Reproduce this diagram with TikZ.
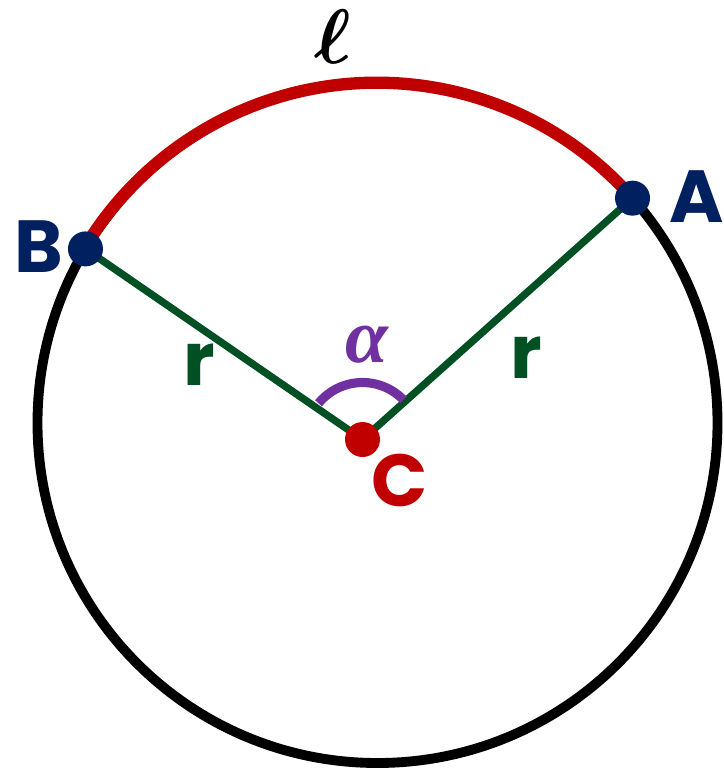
\documentclass[tikz,border=0pt]{standalone}
\usepackage{fontspec}
\usepackage{bm}
\setmainfont{Poppins}
\newfontfamily\greekfont{Liberation Serif}
\usetikzlibrary{calc}
\definecolor{navy}{RGB}{0,32,96}
\definecolor{arcred}{RGB}{192,0,0}
\definecolor{radgreen}{RGB}{0,80,36}
\definecolor{anglepurple}{RGB}{112,48,160}

\begin{document}
\begin{tikzpicture}[
    x=0.02cm, y=0.02cm,
    rim/.style={draw=black,line width=5.6pt},
    arcline/.style={draw=arcred,line width=7pt},
    radline/.style={draw=radgreen,line width=4.2pt},
    anglearc/.style={draw=anglepurple,line width=5.2pt},
    dot/.style={circle,inner sep=0pt,minimum size=0.7cm},
    lbl/.style={inner sep=0pt,font=\fontsize{42}{42}\selectfont\bfseries}
  ]
  \useasboundingbox (0,-768) rectangle (724,0);

  \coordinate (O) at (377.5,-423);
  \coordinate (A) at ($(O)+(41.4:340)$);
  \coordinate (B) at ($(O)+(149.2:340)$);
  \coordinate (C) at (362.5,-439.5);

  \draw[rim] (O) circle[radius=340];
  \draw[arcline] (A) arc[start angle=41.4, end angle=149.2, radius=341];
  \draw[radline] (C) -- (A);
  \draw[radline] (C) -- (B);
  \draw[anglearc] ($(C)+(44:57)$) arc[start angle=44, end angle=140.5, radius=57];

  \node[dot,fill=navy] (dotA) at (A) {};
  \node[dot,fill=navy] (dotB) at (B) {};
  \node[dot,fill=arcred] (dotC) at (C) {};

  \node[lbl,text=navy] (labA) at (697,-197) {A};
  \node[lbl,text=navy] (labB) at (39,-247) {B};
  \node[lbl,text=arcred] (labC) at (400,-480) {C};
  \node[lbl,text=radgreen] (labr1) at (199,-365) {r};
  \node[lbl,text=radgreen] (labr2) at (526,-358) {r};
  \node[inner sep=0pt,text=anglepurple,
        font=\fontsize{44}{44}\selectfont\greekfont\bfseries\itshape] (labalpha) at (367,-345) {α};
  \node[inner sep=0pt] (labell) at (333,-37) {\scalebox{4.4}{$\bm{\ell}$}};
\end{tikzpicture}
\end{document}
